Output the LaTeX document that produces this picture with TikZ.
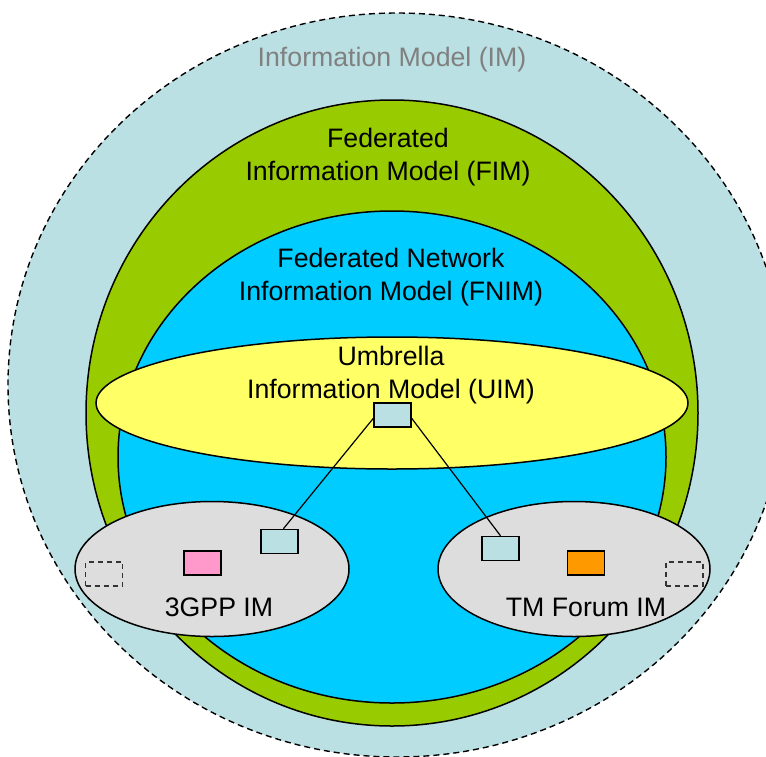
\documentclass[tikz,border=0pt]{standalone}
\usepackage{fontspec}
\setmainfont{Liberation Sans}
\usepackage{tikz}
\usetikzlibrary{shapes.geometric}

\definecolor{imblue}{RGB}{187,224,227}
\definecolor{fimgreen}{RGB}{153,204,0}
\definecolor{fnimblue}{RGB}{0,204,255}
\definecolor{uimyellow}{RGB}{255,255,102}
\definecolor{imgray}{RGB}{221,221,221}
\definecolor{boxpink}{RGB}{255,153,204}
\definecolor{boxorange}{RGB}{255,153,0}
\definecolor{imtext}{RGB}{128,128,128}

\begin{document}
\begin{tikzpicture}[x=1pt, y=-1pt,
	model/.style={ellipse, draw, line width=1.5pt, inner sep=0pt},
	cls/.style={rectangle, draw, line width=1.5pt, minimum width=37pt, minimum height=24pt, inner sep=0pt},
	stub/.style={cls, dash pattern=on 5pt off 4pt, draw=black!80},
	txt/.style={align=center, font=\fontsize{26.7}{33}\selectfont}]
\useasboundingbox (0,0) rectangle (766,756);

% nested models
\node (im) [model, fill=imblue, line width=1.4pt, dash pattern=on 6pt off 4pt, minimum width=778pt, minimum height=744pt] at (397,385) {};
\node (fim) [model, fill=fimgreen, minimum width=612pt, minimum height=626pt] at (392,413) {};
\node (fnim) [model, fill=fnimblue, minimum width=548pt, minimum height=492pt] at (392,457) {};
\node (gpp) [model, fill=imgray, minimum width=274pt, minimum height=135pt] at (212,569) {};
\node (tmf) [model, fill=imgray, minimum width=272pt, minimum height=135pt] at (574,569) {};
\node (uim) [model, fill=uimyellow, minimum width=592pt, minimum height=132pt] at (392,403) {};

% labels
\node (imlabel) [txt, text=imtext] at (392,60) {Information Model (IM)};
\node (fimlabel) [txt] at (388,157.5) {Federated\\Information Model (FIM)};
\node (fnimlabel) [txt] at (391,277.5) {Federated Network\\Information Model (FNIM)};
\node (uimlabel) [txt] at (391,375) {Umbrella\\Information Model (UIM)};
\node (gpplabel) [txt] at (219,607) {3GPP IM};
\node (tmflabel) [txt] at (586,607) {TM Forum IM};

% classes
\node (uimbox) [cls, fill=imblue] at (392.5,415) {};
\node (gppbox) [cls, fill=imblue] at (279.5,541.5) {};
\node (gpppink) [cls, fill=boxpink] at (202.5,563) {};
\node (gppstub) [stub] at (104,574) {};
\node (tmfbox) [cls, fill=imblue] at (500.5,548.5) {};
\node (tmforange) [cls, fill=boxorange] at (586,563) {};
\node (tmfstub) [stub] at (684.5,574) {};

\path[draw, line width=1.2pt]
(uimbox.190) edge (gppbox.73)
(uimbox.350) edge (tmfbox.north)
;
\end{tikzpicture}
\end{document}
